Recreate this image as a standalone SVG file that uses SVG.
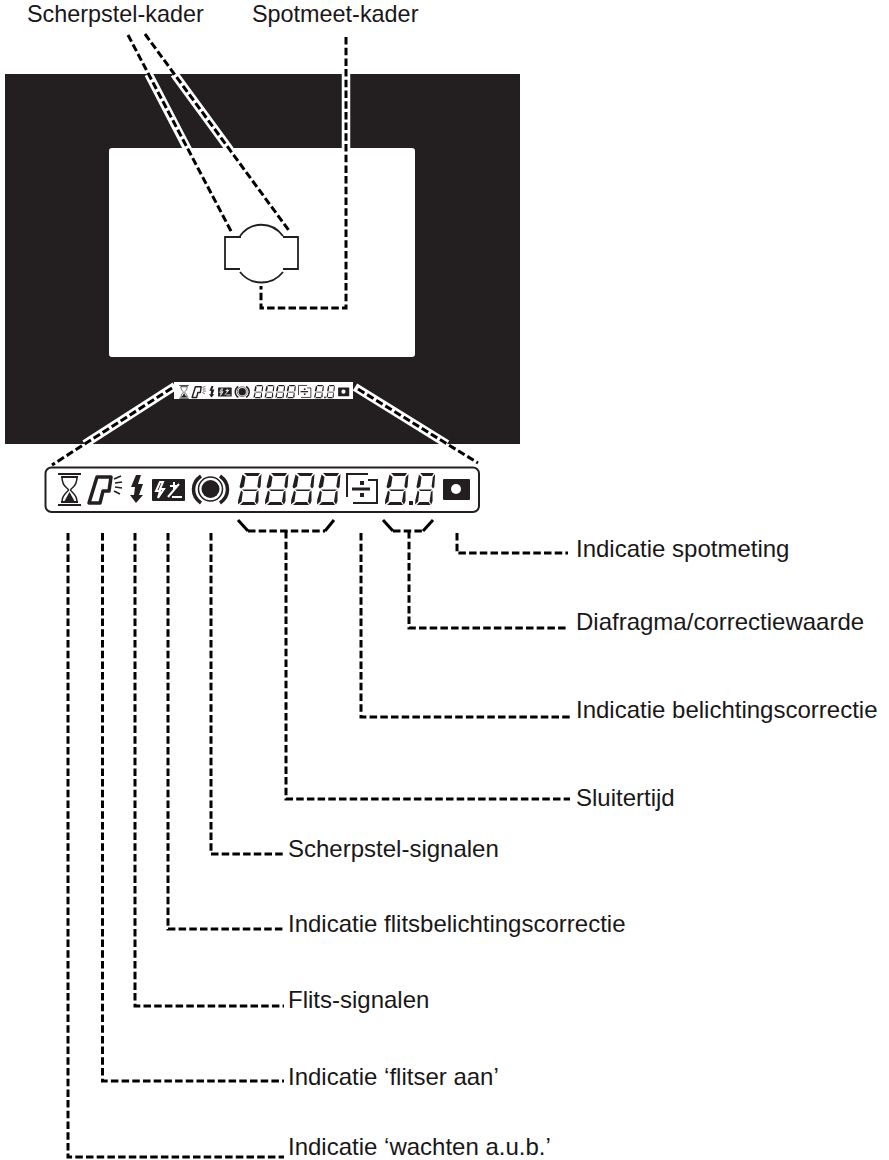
<svg xmlns="http://www.w3.org/2000/svg" xmlns:xlink="http://www.w3.org/1999/xlink" width="889" height="1160" viewBox="0 0 889 1160">
<style>
text{font-family:"Liberation Sans",Arial,sans-serif;font-size:24px;fill:#1a1718}
.t{font-size:23.400px}
.d{fill:none;stroke:#000;stroke-width:3;stroke-dasharray:7.500 3.200}
.b{fill:none;stroke:#000;stroke-width:3}
.c{fill:none;stroke:#fff;stroke-width:8.500}
.s{fill:#231f20;stroke:none}
.o{fill:none;stroke:#231f20}
</style>
<defs>
<g id="seg"><path class="s" d="M5 0H21L19 3H8ZM3.500 1.500L6.500 4L5 13.500L2 15.500L0.500 14ZM22.500 1L19.800 4L18.300 13.500L20 15.500L21.500 14ZM3 16.500H19L17 18H5ZM2 17.500L3.800 19L2.500 28.500L-1 31.500L-0.800 27ZM19.500 17.500L17.500 19L16 28.500L18 31.500L19.500 28ZM1 32L4 29H15L17 32Z"/></g>
<g id="lcd">
<g id="hourglass"><path class="o" stroke-width="2" d="M58 474H81M58 505H81M61 477H78M61 502H78"/><path class="o" stroke-width="1.500" d="M62 477C62 487 67 487 68.500 490C67 493 62 494 62 502M77 477C77 487 72 487 70.500 490C72 493 77 494 77 502"/><path class="s" d="M69.500 492L75 502H64Z"/></g>
<g id="flashhead"><path class="o" stroke-width="3.500" stroke-linejoin="round" d="M97 477H111L109 491H103L100 503H89Z"/><path class="o" stroke-width="1.600" d="M114 479L121 476M115 483L122 482M115 487L122 488M114 491L120 494"/></g>
<path id="bolt" class="s" d="M136 475H141L138 484H143L139 495H143L136 503L130 495H134L135 487H131Z"/>
<g id="flashcomp"><rect class="s" x="152" y="479" width="33" height="22" rx="1"/><path d="M160 482L156 491H160L158 498L164 489H160L163 482ZM168 497L179 484M170 486H178M174 482V490M172 497H182" fill="none" stroke="#fff" stroke-width="2"/></g>
<g id="focussignal"><circle class="s" cx="210.500" cy="489" r="9"/><circle class="o" stroke-width="1.500" cx="210.500" cy="489" r="12"/><path class="o" stroke-width="3.500" d="M201 476C191 483 191 496 201 503M220 476C230 483 230 496 220 503"/></g>
<use xlink:href="#seg" href="#seg" x="239" y="473"/>
<use xlink:href="#seg" href="#seg" x="266" y="473"/>
<use xlink:href="#seg" href="#seg" x="292" y="473"/>
<use xlink:href="#seg" href="#seg" x="318" y="473"/>
<g id="corrbox"><path class="o" stroke-width="2" d="M347 497V474H368"/><path class="o" stroke-width="2" d="M368 480H377V503H353"/><path class="s" d="M352 487.500H370V490.500H352Z"/><rect class="s" x="360" y="481" width="4" height="4"/><rect class="s" x="360" y="493" width="4" height="4"/></g>
<use xlink:href="#seg" href="#seg" x="386" y="473"/>
<rect class="s" x="409" y="501" width="4" height="4"/>
<use xlink:href="#seg" transform="translate(416 473) scale(.85 1)" href="#seg"/>
<g id="spot"><rect class="s" x="443" y="479" width="27" height="21" rx="1"/><circle cx="456" cy="489" r="5" fill="#fff"/></g>
</g>
</defs>
<rect id="viewfinder-mask" x="5" y="74" width="515" height="370" fill="#231f20"/>
<g id="casings">
<path class="c" d="M148.500 74L188 150"/>
<path class="c" d="M174.300 74L230 150"/>
<path class="c" d="M346 74V150"/>
<path class="c" d="M175 386L84.700 444"/>
<path class="c" d="M355 387L447 444"/>
</g>
<rect id="viewfinder-field" x="109" y="148" width="306" height="209" rx="3" fill="#fff"/>
<g id="focus-frame">
<path class="o" stroke-width="1.800" d="M241 237H225V269H240M240 236C251 221 272 221 283 236M283 237H298V269H283M240 272C251 286 272 286 283 272"/>
</g>
<g id="connectors">
<path class="d" d="M128 35L232 233"/>
<path class="d" d="M145 34L290 232"/>
<path class="d" d="M346 37V308H261V286"/>
<path class="d" d="M172 388L52 465"/>
<path class="d" d="M358 389L478 463"/>
<path class="d" d="M68 533V1157H284"/>
<path class="d" d="M102.500 533V1081H284"/>
<path class="d" d="M135 533V1006H284"/>
<path class="d" d="M168 533V929H284"/>
<path class="d" d="M211 533V854H284"/>
<path class="d" d="M286 531V799H570"/>
<path class="d" d="M361 533V717H570"/>
<path class="d" d="M409 531V628H568"/>
<path class="d" d="M457 533V553H568"/>
<path class="b" d="M238 520L248 531"/><path class="d" d="M248 531H325"/><path class="b" d="M325 531L334 520"/>
<path class="b" d="M383 520L393 531"/><path class="d" d="M393 531H423"/><path class="b" d="M423 531L433 520"/>
</g>
<g id="small-display"><rect x="174" y="382" width="179" height="17" fill="#fff"/><use xlink:href="#lcd" href="#lcd" transform="translate(155.400 190) scale(.4124)"/></g>
<g id="display"><rect x="45.500" y="467.500" width="433.500" height="44.500" rx="6" fill="#fff" stroke="#231f20" stroke-width="2"/><use xlink:href="#lcd" href="#lcd"/></g>
<g id="labels">
<text class="t" x="27" y="22">Scherpstel-kader</text>
<text class="t" x="252" y="22">Spotmeet-kader</text>
<text x="576" y="557">Indicatie spotmeting</text>
<text x="576" y="630">Diafragma/correctiewaarde</text>
<text x="576" y="718">Indicatie belichtingscorrectie</text>
<text x="576" y="806">Sluitertijd</text>
<text x="288" y="857">Scherpstel-signalen</text>
<text x="288" y="932">Indicatie flitsbelichtingscorrectie</text>
<text x="288" y="1008">Flits-signalen</text>
<text x="288" y="1085">Indicatie ‘flitser aan’</text>
<text x="288" y="1155">Indicatie ‘wachten a.u.b.’</text>
</g>
</svg>
